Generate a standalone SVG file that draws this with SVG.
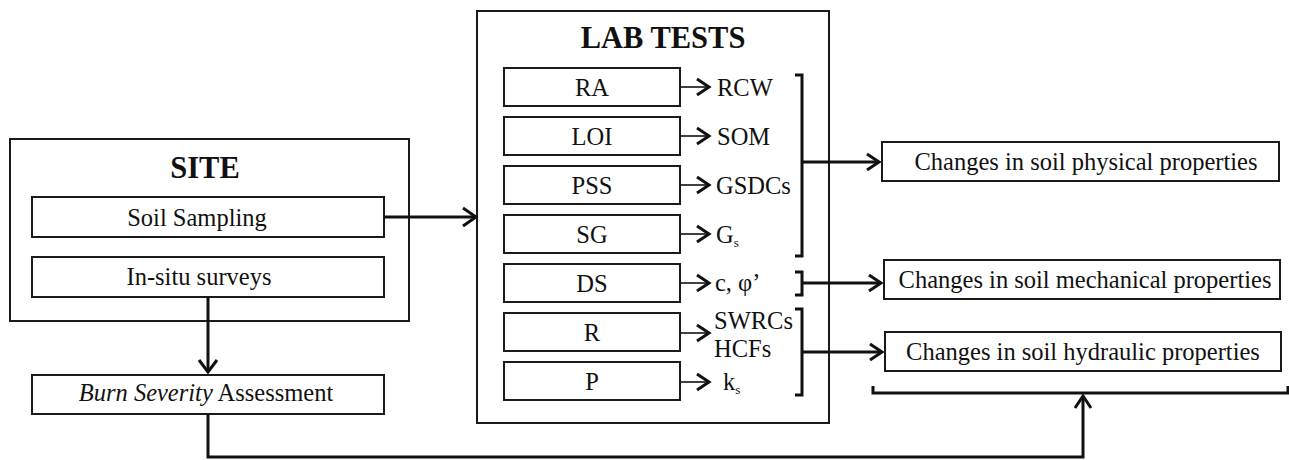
<svg xmlns="http://www.w3.org/2000/svg" width="1289" height="460" viewBox="0 0 1289 460">
  <style>
    .box { fill: #fff; stroke: #1a1a1a; stroke-width: 2; }
    .frame { fill: none; stroke: #1a1a1a; stroke-width: 2; }
    .t { font-family: "Liberation Serif", "Times New Roman", serif; font-size: 24.5px; fill: #111; }
    .c { text-anchor: middle; }
    .title { font-family: "Liberation Serif", "Times New Roman", serif; font-size: 30.5px; font-weight: bold; fill: #111; text-anchor: middle; }
    .sub { font-size: 13px; }
    .wire { fill: none; stroke: #111; stroke-width: 3; }
    .thin { fill: none; stroke: #111; stroke-width: 1.6; }
    .bracket { fill: none; stroke: #111; stroke-width: 3; }
    .head { fill: none; stroke: #111; stroke-width: 3; stroke-linecap: butt; stroke-linejoin: miter; }
  </style>

  <!-- SITE panel -->
  <g id="site">
    <rect class="frame" x="10" y="139" width="399" height="182"/>
    <text class="title" x="205" y="178">SITE</text>
  </g>
  <g id="soil-sampling">
    <rect class="box" x="32" y="197" width="352" height="40"/>
    <text class="t c" x="197" y="226">Soil Sampling</text>
  </g>
  <g id="in-situ-surveys">
    <rect class="box" x="32" y="257" width="352" height="40"/>
    <text class="t c" x="199" y="285">In-situ surveys</text>
  </g>
  <g id="burn-severity">
    <rect class="box" x="32" y="375" width="352" height="39"/>
    <text class="t c" x="206" y="401"><tspan font-style="italic">Burn Severity</tspan> Assessment</text>
  </g>

  <!-- LAB TESTS panel -->
  <g id="lab-tests">
    <rect class="frame" x="477" y="11" width="352" height="412"/>
    <text class="title" x="663" y="48">LAB TESTS</text>
  </g>
  <g id="test-ra">
    <rect class="box" x="504" y="68" width="176" height="38"/>
    <text class="t c" x="592" y="96">RA</text>
    <text class="t" x="717" y="96">RCW</text>
  </g>
  <g id="test-loi">
    <rect class="box" x="504" y="117" width="176" height="38"/>
    <text class="t c" x="592" y="145">LOI</text>
    <text class="t" x="717" y="145">SOM</text>
  </g>
  <g id="test-pss">
    <rect class="box" x="504" y="166" width="176" height="38"/>
    <text class="t c" x="592" y="194">PSS</text>
    <text class="t" x="716" y="194">GSDCs</text>
  </g>
  <g id="test-sg">
    <rect class="box" x="504" y="215" width="176" height="38"/>
    <text class="t c" x="592" y="243">SG</text>
    <text class="t" x="716" y="243">G<tspan class="sub" dy="4">s</tspan></text>
  </g>
  <g id="test-ds">
    <rect class="box" x="504" y="264" width="176" height="38"/>
    <text class="t c" x="592" y="292">DS</text>
    <text class="t" x="715" y="291">c, φ’</text>
  </g>
  <g id="test-r">
    <rect class="box" x="504" y="313" width="176" height="38"/>
    <text class="t c" x="592" y="341">R</text>
    <text class="t" x="714" y="329">SWRCs</text>
    <text class="t" x="714" y="357">HCFs</text>
  </g>
  <g id="test-p">
    <rect class="box" x="504" y="362" width="176" height="38"/>
    <text class="t c" x="592" y="390">P</text>
    <text class="t" x="723" y="390">k<tspan class="sub" dy="4">s</tspan></text>
  </g>

  <!-- Outcome boxes -->
  <g id="physical">
    <rect class="box" x="882" y="142" width="397" height="39"/>
    <text class="t c" x="1086" y="170">Changes in soil physical properties</text>
  </g>
  <g id="mechanical">
    <rect class="box" x="884" y="260" width="396" height="39"/>
    <text class="t c" x="1085" y="288">Changes in soil mechanical properties</text>
  </g>
  <g id="hydraulic">
    <rect class="box" x="885" y="332" width="396" height="39"/>
    <text class="t c" x="1083" y="360">Changes in soil hydraulic properties</text>
  </g>

  <!-- Connectors -->
  <g id="connectors">
    <!-- Soil Sampling to LAB TESTS -->
    <line class="wire" x1="384" y1="217" x2="476" y2="217"/>
    <polyline class="head" points="463,208 476,217 463,226"/>
    <!-- In-situ surveys to Burn Severity -->
    <line class="wire" x1="208" y1="297" x2="208" y2="372"/>
    <polyline class="head" points="199,360 208,372 217,360"/>
    <!-- Burn Severity to hydraulic bracket -->
    <polyline class="wire" points="208,414 208,457 1083,457 1083,396"/>
    <polyline class="head" points="1075,408 1083,396 1091,408"/>
    <polyline class="bracket" points="873,386 873,393 1288,393 1288,386"/>

    <!-- Test to result arrows -->
    <line class="thin" x1="680" y1="87" x2="709" y2="87"/>
    <polyline class="head" points="697,79 709,87 697,95"/>
    <line class="thin" x1="680" y1="136" x2="709" y2="136"/>
    <polyline class="head" points="697,128 709,136 697,144"/>
    <line class="thin" x1="680" y1="185" x2="709" y2="185"/>
    <polyline class="head" points="697,177 709,185 697,193"/>
    <line class="thin" x1="680" y1="234" x2="709" y2="234"/>
    <polyline class="head" points="697,226 709,234 697,242"/>
    <line class="thin" x1="680" y1="283" x2="709" y2="283"/>
    <polyline class="head" points="697,275 709,283 697,291"/>
    <line class="thin" x1="680" y1="333" x2="709" y2="333"/>
    <polyline class="head" points="697,325 709,333 697,341"/>
    <line class="thin" x1="680" y1="382" x2="709" y2="382"/>
    <polyline class="head" points="697,374 709,382 697,390"/>

    <!-- Brackets to outcome boxes -->
    <polyline class="bracket" points="795,75 802,75 802,256 795,256"/>
    <line class="wire" x1="802" y1="162" x2="879" y2="162"/>
    <polyline class="head" points="867,154 879,162 867,170"/>

    <polyline class="bracket" points="795,272 802,272 802,295 795,295"/>
    <line class="wire" x1="802" y1="283" x2="881" y2="283"/>
    <polyline class="head" points="869,275 881,283 869,291"/>

    <polyline class="bracket" points="795,309 802,309 802,395 795,395"/>
    <line class="wire" x1="802" y1="352" x2="882" y2="352"/>
    <polyline class="head" points="870,344 882,352 870,360"/>
  </g>
</svg>
